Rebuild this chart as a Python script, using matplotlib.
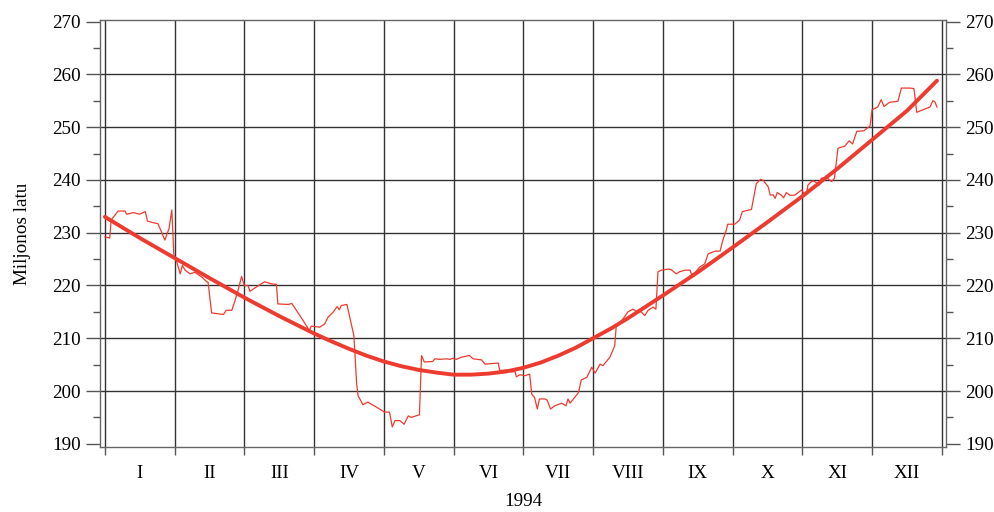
import matplotlib
matplotlib.use("Agg")
import matplotlib.pyplot as plt
from matplotlib.ticker import MultipleLocator

# daily values, x in months from 1 Jan (0) to 31 Dec (12)
day_x = [0.00, 0.07, 0.09, 0.19, 0.29, 0.31, 0.41, 0.50, 0.58, 0.61, 0.69, 0.76,
         0.81, 0.86, 0.92, 0.96, 0.99, 1.03, 1.08, 1.11, 1.15, 1.22, 1.29, 1.39,
         1.46, 1.48, 1.53, 1.70, 1.74, 1.82, 1.86, 1.91, 1.96, 2.00, 2.05, 2.08,
         2.17, 2.29, 2.39, 2.46, 2.48, 2.63, 2.68, 2.72, 2.84, 2.93, 2.96, 3.08,
         3.15, 3.20, 3.27, 3.33, 3.36, 3.39, 3.47, 3.57, 3.61, 3.63, 3.70, 3.77,
         3.82, 3.90, 4.01, 4.08, 4.10, 4.12, 4.16, 4.23, 4.29, 4.35, 4.39, 4.51,
         4.54, 4.58, 4.70, 4.73, 4.80, 4.90, 4.95, 4.99, 5.04, 5.11, 5.21, 5.23,
         5.28, 5.40, 5.45, 5.64, 5.66, 5.78, 5.83, 5.88, 5.90, 5.95, 6.02, 6.09,
         6.12, 6.16, 6.20, 6.23, 6.31, 6.34, 6.39, 6.45, 6.55, 6.61, 6.64, 6.67,
         6.79, 6.83, 6.91, 6.98, 7.03, 7.10, 7.14, 7.24, 7.31, 7.33, 7.43, 7.50,
         7.57, 7.62, 7.69, 7.74, 7.79, 7.86, 7.90, 7.93, 7.98, 8.08, 8.12, 8.19,
         8.24, 8.32, 8.39, 8.41, 8.46, 8.49, 8.53, 8.60, 8.65, 8.75, 8.82, 8.86,
         8.91, 8.93, 9.03, 9.10, 9.14, 9.27, 9.34, 9.40, 9.44, 9.51, 9.54, 9.58,
         9.61, 9.64, 9.70, 9.73, 9.77, 9.82, 9.89, 9.94, 9.99, 10.02, 10.06, 10.08,
         10.13, 10.16, 10.20, 10.24, 10.27, 10.34, 10.42, 10.46, 10.51, 10.61, 10.67, 10.72,
         10.78, 10.88, 10.97, 11.00, 11.08, 11.13, 11.17, 11.25, 11.37, 11.42, 11.54, 11.60,
         11.64, 11.73, 11.83, 11.87, 11.90, 11.93]
day_val = [229.2, 229.0, 232.4, 234.1, 234.1, 233.5, 233.8, 233.5, 234.0, 232.2, 231.9, 231.7,
           230.2, 228.6, 230.8, 234.3, 225.4, 224.5, 222.2, 223.8, 222.9, 222.2, 222.5, 221.6,
           220.7, 220.6, 214.8, 214.5, 215.3, 215.3, 216.9, 219.1, 221.7, 220.0, 220.0, 218.9,
           219.7, 220.7, 220.3, 220.2, 216.5, 216.4, 216.6, 215.8, 213.4, 211.5, 212.3, 212.1,
           212.7, 214.0, 214.9, 216.0, 215.4, 216.2, 216.4, 210.5, 201.3, 199.1, 197.4, 197.9,
           197.5, 196.9, 196.0, 196.0, 194.7, 193.2, 194.4, 194.4, 193.7, 195.3, 195.0, 195.5,
           206.7, 205.5, 205.6, 206.1, 206.0, 206.1, 206.0, 206.2, 206.0, 206.4, 206.7, 206.7,
           206.1, 205.9, 205.1, 205.3, 203.9, 204.0, 203.6, 203.7, 202.7, 203.1, 202.9, 203.2,
           199.4, 198.8, 196.6, 198.5, 198.5, 198.3, 196.6, 197.2, 197.7, 197.2, 198.5, 197.7,
           199.7, 202.1, 202.6, 204.5, 203.4, 205.1, 204.8, 206.4, 208.6, 212.1, 213.7, 215.0,
           215.5, 215.1, 215.0, 214.3, 215.3, 215.9, 215.5, 222.6, 222.9, 223.1, 223.0, 222.2,
           222.6, 222.9, 222.9, 222.1, 222.4, 222.9, 223.5, 224.1, 226.0, 226.5, 226.5, 228.6,
           230.5, 231.6, 231.6, 232.4, 234.0, 234.4, 239.3, 240.1, 239.9, 238.7, 237.1, 237.2,
           236.5, 237.6, 237.1, 236.6, 237.6, 237.1, 237.1, 237.6, 238.1, 237.4, 237.4, 239.0,
           239.7, 239.8, 239.5, 239.0, 240.3, 240.5, 239.7, 240.3, 246.0, 246.4, 247.4, 246.8,
           249.2, 249.3, 250.2, 253.3, 253.8, 255.2, 253.9, 254.7, 254.9, 257.4, 257.4, 257.3,
           252.8, 253.3, 253.8, 255.0, 254.8, 253.8]

# trend line
trend_x = [0, 0.5, 1, 1.5, 2, 2.5, 3, 3.25, 3.5, 3.75, 4, 4.25, 4.5, 4.75, 5, 5.25,
           5.5, 5.75, 6, 6.25, 6.5, 6.75, 7, 7.25, 7.5, 8, 8.5, 9, 9.5, 10, 10.5,
           11, 11.5, 11.93]
trend_val = [233.0, 229.0, 225.2, 221.4, 217.7, 214.2, 210.9, 209.4, 208.0, 206.7, 205.6, 204.7,
             204.0, 203.5, 203.1, 203.1, 203.3, 203.7, 204.4, 205.4, 206.7, 208.2, 210.0, 211.8,
             213.8, 218.1, 222.5, 227.2, 232.0, 236.9, 242.1, 247.6, 253.1, 258.8]

months = ['I', 'II', 'III', 'IV', 'V', 'VI', 'VII', 'VIII', 'IX', 'X', 'XI', 'XII']

plt.rcParams['font.family'] = ['Liberation Serif', 'DejaVu Serif']
plt.rcParams['font.size'] = 13.8

red = '#ee3b30'

fig = plt.figure(figsize=(9.95, 5.12), dpi=100)
ax = fig.add_axes([0.1005, 0.127, 0.8503, 0.834])

ax.plot(day_x, day_val, color=red, lw=0.9, zorder=3)
ax.plot(trend_x, trend_val, color=red, lw=2.8, solid_capstyle='round', zorder=4)

ax.set_xlim(-0.07, 12.06)
ax.set_ylim(189.4, 270.3)

ax.set_xticks(range(13))
ax.set_xticklabels([])
ax.set_xticks([i + 0.5 for i in range(12)], minor=True)
ax.set_xticklabels(months, minor=True)
ax.tick_params(axis='x', which='major', length=6, width=1, color='#555')
ax.tick_params(axis='x', which='minor', length=0, pad=13)

ax.yaxis.set_major_locator(MultipleLocator(10))
ax.yaxis.set_minor_locator(MultipleLocator(5))
ax.tick_params(axis='y', which='major', length=10, width=1, color='#555', right=True, labelright=True, pad=4)
ax.tick_params(axis='y', which='minor', length=5, width=1, color='#555', right=True)

# grid: month boundaries and inner value lines only
ax.grid(True, axis='x', which='major', color='#333', lw=1.0)
for v in range(200, 270, 10):
    ax.axhline(v, color='#333', lw=1.0, zorder=1)
ax.set_axisbelow(True)
for s in ax.spines.values():
    s.set_color('#666')
    s.set_linewidth(1.0)

ax.set_ylabel('Miljonos latu', labelpad=15)
ax.set_xlabel('1994', labelpad=8)

fig.savefig('out.png', dpi=100)
